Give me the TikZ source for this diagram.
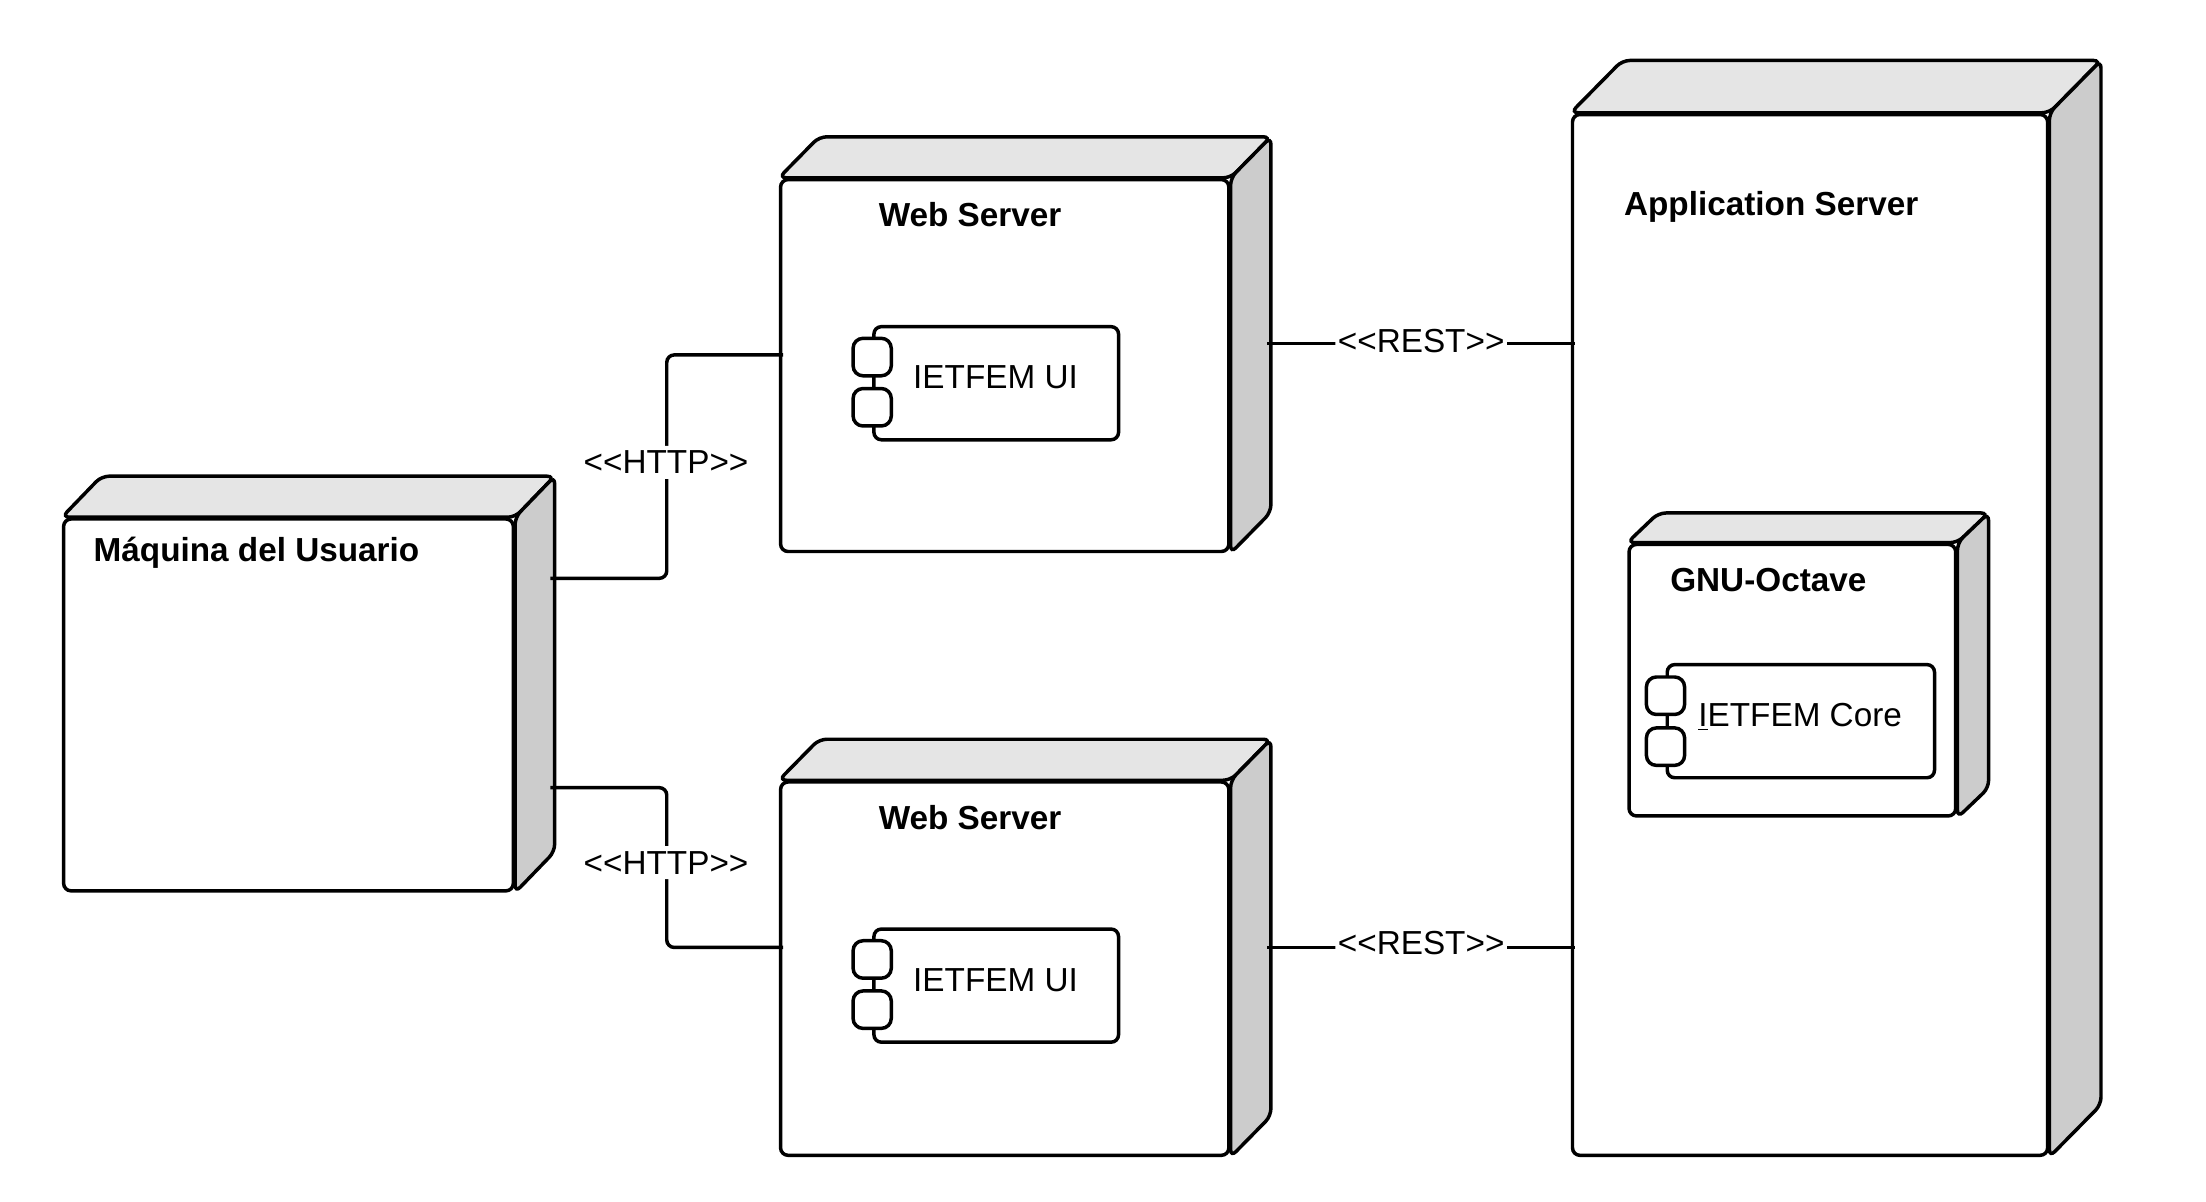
\documentclass[tikz,border=0pt]{standalone}
\usepackage{fontspec}
\setmainfont{Liberation Sans}
\usetikzlibrary{calc}
\usetikzlibrary{shapes,arrows}

\begin{document}
\begin{tikzpicture}[line width=1.4pt, rounded corners=3pt,
	front/.style={draw, fill=white, rectangle, inner sep=0pt},
	topface/.style={draw, fill=gray!20},
	sideface/.style={draw, fill=gray!40},
	comp/.style={draw, fill=white, rectangle, inner sep=0pt, minimum width=3.46cm, minimum height=1.6cm},
	tab/.style={draw, fill=white, rectangle, rounded corners=4pt, inner sep=0pt, minimum width=0.54cm, minimum height=0.53cm},
	conn/.style={line width=1.4pt},
	lbl/.style={fill=white, inner sep=2pt, font=\fontsize{13.4}{16}\selectfont},
	txt/.style={inner sep=0pt, font=\fontsize{13.4}{16}\selectfont},
	title/.style={inner sep=0pt, font=\fontsize{13.4}{16}\selectfont\bfseries}]

		\useasboundingbox (0,0) rectangle (31.2,17);

		% Maquina del Usuario
		\node[front, minimum width=6.36cm, minimum height=5.26cm] (user) at (4.08,7.03) {};
		\draw[topface] (user.north west) -- ++(0.56,0.58) -- ($(user.north east)+(0.56,0.58)$) -- (user.north east) -- cycle;
		\draw[sideface] (user.north east) -- ++(0.56,0.58) -- ($(user.south east)+(0.56,0.58)$) -- (user.south east) -- cycle;
		\node[title, anchor=west] (usertitle) at (1.3,9.18) {Máquina del Usuario};

		% Web Server 1
		\node[front, minimum width=6.34cm, minimum height=5.26cm] (web1) at (14.21,11.83) {};
		\draw[topface] (web1.north west) -- ++(0.57,0.58) -- ($(web1.north east)+(0.57,0.58)$) -- (web1.north east) -- cycle;
		\draw[sideface] (web1.north east) -- ++(0.57,0.58) -- ($(web1.south east)+(0.57,0.58)$) -- (web1.south east) -- cycle;
		\node[title] (web1title) at (13.72,13.96) {Web Server};
		\node[comp] (ui1) at (14.09,11.58) {};
		\node[tab] (ui1taba) at ($(ui1.west)+(0,0.37)$) {};
		\node[tab] (ui1tabb) at ($(ui1.west)+(0,-0.34)$) {};
		\node[txt] (ui1text) at (14.08,11.66) {IETFEM UI};

		% Web Server 2
		\node[front, minimum width=6.34cm, minimum height=5.28cm] (web2) at (14.21,3.3) {};
		\draw[topface] (web2.north west) -- ++(0.57,0.58) -- ($(web2.north east)+(0.57,0.58)$) -- (web2.north east) -- cycle;
		\draw[sideface] (web2.north east) -- ++(0.57,0.58) -- ($(web2.south east)+(0.57,0.58)$) -- (web2.south east) -- cycle;
		\node[title] (web2title) at (13.72,5.44) {Web Server};
		\node[comp] (ui2) at (14.09,3.06) {};
		\node[tab] (ui2taba) at ($(ui2.west)+(0,0.37)$) {};
		\node[tab] (ui2tabb) at ($(ui2.west)+(0,-0.34)$) {};
		\node[txt] (ui2text) at (14.08,3.14) {IETFEM UI};

		% Application Server
		\node[front, minimum width=6.72cm, minimum height=14.72cm] (app) at (25.6,8.02) {};
		\draw[topface] (app.north west) -- ++(0.73,0.74) -- ($(app.north east)+(0.73,0.74)$) -- (app.north east) -- cycle;
		\draw[sideface] (app.north east) -- ++(0.73,0.74) -- ($(app.south east)+(0.73,0.74)$) -- (app.south east) -- cycle;
		\node[title] (apptitle) at (25.05,14.08) {Application Server};

		% GNU-Octave
		\node[front, minimum width=4.62cm, minimum height=3.84cm] (gnu) at (25.35,7.38) {};
		\draw[topface] (gnu.north west) -- ++(0.44,0.42) -- ($(gnu.north east)+(0.44,0.42)$) -- (gnu.north east) -- cycle;
		\draw[sideface] (gnu.north east) -- ++(0.44,0.42) -- ($(gnu.south east)+(0.44,0.42)$) -- (gnu.south east) -- cycle;
		\node[title] (gnutitle) at (25.01,8.8) {GNU-Octave};
		\node[comp, minimum width=3.78cm] (core) at (25.47,6.8) {};
		\node[tab] (coretaba) at ($(core.west)+(0,0.36)$) {};
		\node[tab] (coretabb) at ($(core.west)+(0,-0.36)$) {};
		\node[txt] (coretext) at (25.46,6.86) {\underline{I}ETFEM Core};

		% ports
		\coordinate (userp1) at ($(user.east)+(0.5,1.79)$);
		\coordinate (userp2) at ($(user.east)+(0.5,-1.17)$);
		\coordinate (web1l) at ($(web1.west)+(0.06,0.15)$);
		\coordinate (web2l) at ($(web2.west)+(0.06,0.3)$);
		\coordinate (web1r) at ($(web1.east)+(0.52,0.31)$);
		\coordinate (web2r) at ($(web2.east)+(0.52,0.3)$);
		\coordinate (app1) at ($(app.west |- web1r)+(0.06,0)$);
		\coordinate (app2) at ($(app.west |- web2r)+(0.06,0)$);

		% HTTP
		\draw[conn] (userp1) -| ($(userp1)!.5!(web1l)$) |- (web1l);
		\draw[conn] (userp2) -| ($(userp2)!.5!(web2l)$) |- (web2l);
		\node[lbl] (http1) at (9.42,10.46) {<\kern0pt<HTTP>\kern0pt>};
		\node[lbl] (http2) at (9.42,4.8) {<\kern0pt<HTTP>\kern0pt>};

		% REST
		\draw[conn] (web1r) -- (app1);
		\draw[conn] (web2r) -- (app2);
		\node[lbl, inner sep=1pt] (rest1) at (20.1,12.18) {<\kern0pt<REST>\kern0pt>};
		\node[lbl, inner sep=1pt] (rest2) at (20.1,3.66) {<\kern0pt<REST>\kern0pt>};

	\end{tikzpicture}
\end{document}
